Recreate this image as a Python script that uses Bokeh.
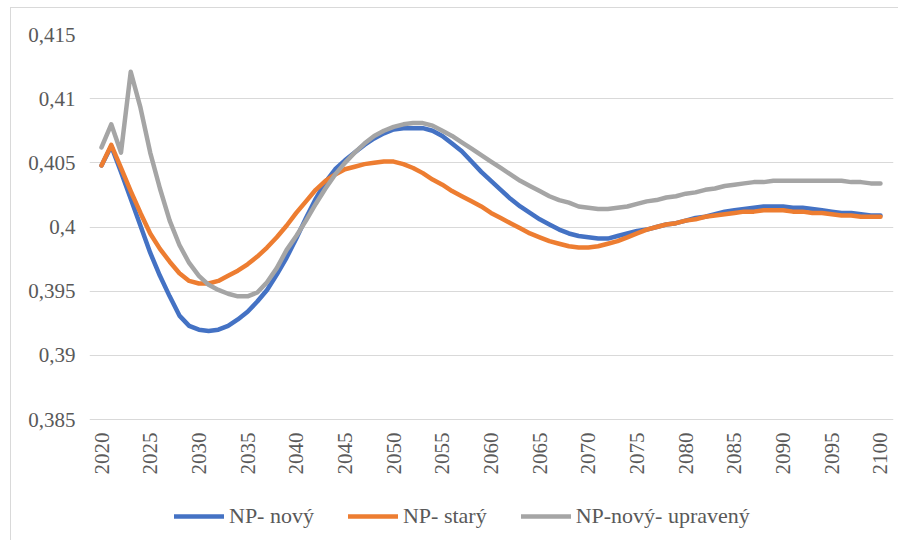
from bokeh.plotting import figure
from bokeh.models import Range1d, FixedTicker, Legend, LegendItem
from bokeh.embed import file_html
from bokeh.resources import INLINE
import math

years = list(range(2020, 2101))

np_novy = [
    0.4048, 0.4063, 0.4043, 0.4022, 0.4001, 0.3980, 0.3962, 0.3946, 0.3931, 0.3923,
    0.3920, 0.3919, 0.3920, 0.3923, 0.3928, 0.3934, 0.3942, 0.3951, 0.3963, 0.3976,
    0.3991, 0.4007, 0.4022, 0.4035, 0.4045, 0.4052, 0.4058, 0.4064, 0.4069, 0.4073,
    0.4076, 0.4077, 0.4077, 0.4077, 0.4075, 0.4071, 0.4065, 0.4059, 0.4051, 0.4043,
    0.4036, 0.4029, 0.4022, 0.4016, 0.4011, 0.4006, 0.4002, 0.3998, 0.3995, 0.3993,
    0.3992, 0.3991, 0.3991, 0.3993, 0.3995, 0.3997, 0.3998, 0.4000, 0.4002, 0.4003,
    0.4005, 0.4007, 0.4008, 0.4010, 0.4012, 0.4013, 0.4014, 0.4015, 0.4016, 0.4016,
    0.4016, 0.4015, 0.4015, 0.4014, 0.4013, 0.4012, 0.4011, 0.4011, 0.4010, 0.4009,
    0.4009,
]

np_stary = [
    0.4048, 0.4064, 0.4046, 0.4028, 0.4011, 0.3995, 0.3983, 0.3973, 0.3964, 0.3958,
    0.3956, 0.3956, 0.3958, 0.3962, 0.3966, 0.3971, 0.3977, 0.3984, 0.3992, 0.4001,
    0.4011, 0.4020, 0.4029, 0.4036, 0.4041, 0.4045, 0.4047, 0.4049, 0.4050, 0.4051,
    0.4051, 0.4049, 0.4046, 0.4042, 0.4037, 0.4033, 0.4028, 0.4024, 0.4020, 0.4016,
    0.4011, 0.4007, 0.4003, 0.3999, 0.3995, 0.3992, 0.3989, 0.3987, 0.3985, 0.3984,
    0.3984, 0.3985, 0.3987, 0.3989, 0.3992, 0.3995, 0.3998, 0.4000, 0.4002, 0.4003,
    0.4005, 0.4006, 0.4008, 0.4009, 0.4010, 0.4011, 0.4012, 0.4012, 0.4013, 0.4013,
    0.4013, 0.4012, 0.4012, 0.4011, 0.4011, 0.4010, 0.4009, 0.4009, 0.4008, 0.4008,
    0.4008,
]

np_novy_upraveny = [
    0.4062, 0.4080, 0.4058, 0.4121, 0.4093, 0.4058, 0.4030, 0.4005, 0.3986, 0.3972,
    0.3962, 0.3955, 0.3951, 0.3948, 0.3946, 0.3946, 0.3949, 0.3957, 0.3968, 0.3982,
    0.3993, 0.4005, 0.4018, 0.4030, 0.4041, 0.4050, 0.4058, 0.4065, 0.4071, 0.4075,
    0.4078, 0.4080, 0.4081, 0.4081, 0.4079, 0.4075, 0.4071, 0.4066, 0.4061, 0.4056,
    0.4051, 0.4046, 0.4041, 0.4036, 0.4032, 0.4028, 0.4024, 0.4021, 0.4019, 0.4016,
    0.4015, 0.4014, 0.4014, 0.4015, 0.4016, 0.4018, 0.4020, 0.4021, 0.4023, 0.4024,
    0.4026, 0.4027, 0.4029, 0.4030, 0.4032, 0.4033, 0.4034, 0.4035, 0.4035, 0.4036,
    0.4036, 0.4036, 0.4036, 0.4036, 0.4036, 0.4036, 0.4036, 0.4035, 0.4035, 0.4034,
    0.4034,
]

series_names = ["NP- nový", "NP- starý", "NP-nový- upravený"]
series_colors = ["#4472C4", "#ED7D31", "#A5A5A5"]

y_ticks = [0.385, 0.39, 0.395, 0.4, 0.405, 0.41, 0.415]
y_tick_labels = ["0,385", "0,39", "0,395", "0,4", "0,405", "0,41", "0,415"]
x_ticks = list(range(2020, 2101, 5))
x_tick_labels = [str(t) for t in x_ticks]

FONT = "Liberation Serif"
TXT = "#595959"

p = figure(width=888, height=533, output_backend="svg", toolbar_location=None,
           x_range=Range1d(2018.766, 2101.337), y_range=Range1d(0.37550, 0.415),
           min_border_left=78, min_border_right=6, min_border_top=26,
           min_border_bottom=0)
p.styles = {"margin-left": "10px", "margin-top": "7px",
            "border-left": "1px solid #d9d9d9", "border-top": "1px solid #d9d9d9"}
p.outline_line_color = None
p.background_fill_color = "white"
p.border_fill_color = "white"

p.xgrid.grid_line_color = None
p.ygrid.grid_line_color = "#d9d9d9"
p.ygrid.grid_line_width = 1

p.yaxis.ticker = FixedTicker(ticks=y_ticks)
p.yaxis.major_label_overrides = {t: l for t, l in zip(y_ticks, y_tick_labels)}
p.xaxis.ticker = FixedTicker(ticks=x_ticks)
p.xaxis.major_label_overrides = {t: l for t, l in zip(x_ticks, x_tick_labels)}
p.xaxis.major_label_orientation = math.pi / 2
p.xaxis.fixed_location = y_ticks[0]

for ax in (p.xaxis, p.yaxis):
    ax.axis_line_color = None
    ax.major_tick_line_color = None
    ax.minor_tick_line_color = None
    ax.major_tick_in = 0
    ax.major_tick_out = 0
    ax.major_label_text_font = FONT
    ax.major_label_text_font_size = "21px"
    ax.major_label_text_color = TXT
p.yaxis.major_label_standoff = 14
p.xaxis.major_label_standoff = 13

renderers = []
for data, name, color in zip([np_novy, np_stary, np_novy_upraveny], series_names, series_colors):
    r = p.line(years, data, line_color=color, line_width=4.5, line_join="round", line_cap="round")
    renderers.append(r)

legend = Legend(items=[LegendItem(label=n, renderers=[r]) for n, r in zip(series_names, renderers)],
                orientation="horizontal", location=(85, 12))
legend.label_text_font = FONT
legend.label_text_font_size = "22px"
legend.label_text_color = TXT
legend.glyph_width = 50
legend.glyph_height = 20
legend.label_standoff = 5
legend.spacing = 34
legend.padding = 8
legend.margin = 0
legend.border_line_color = None
legend.background_fill_alpha = 0
p.add_layout(legend)

open("out.html", "w").write(file_html(p, INLINE))
